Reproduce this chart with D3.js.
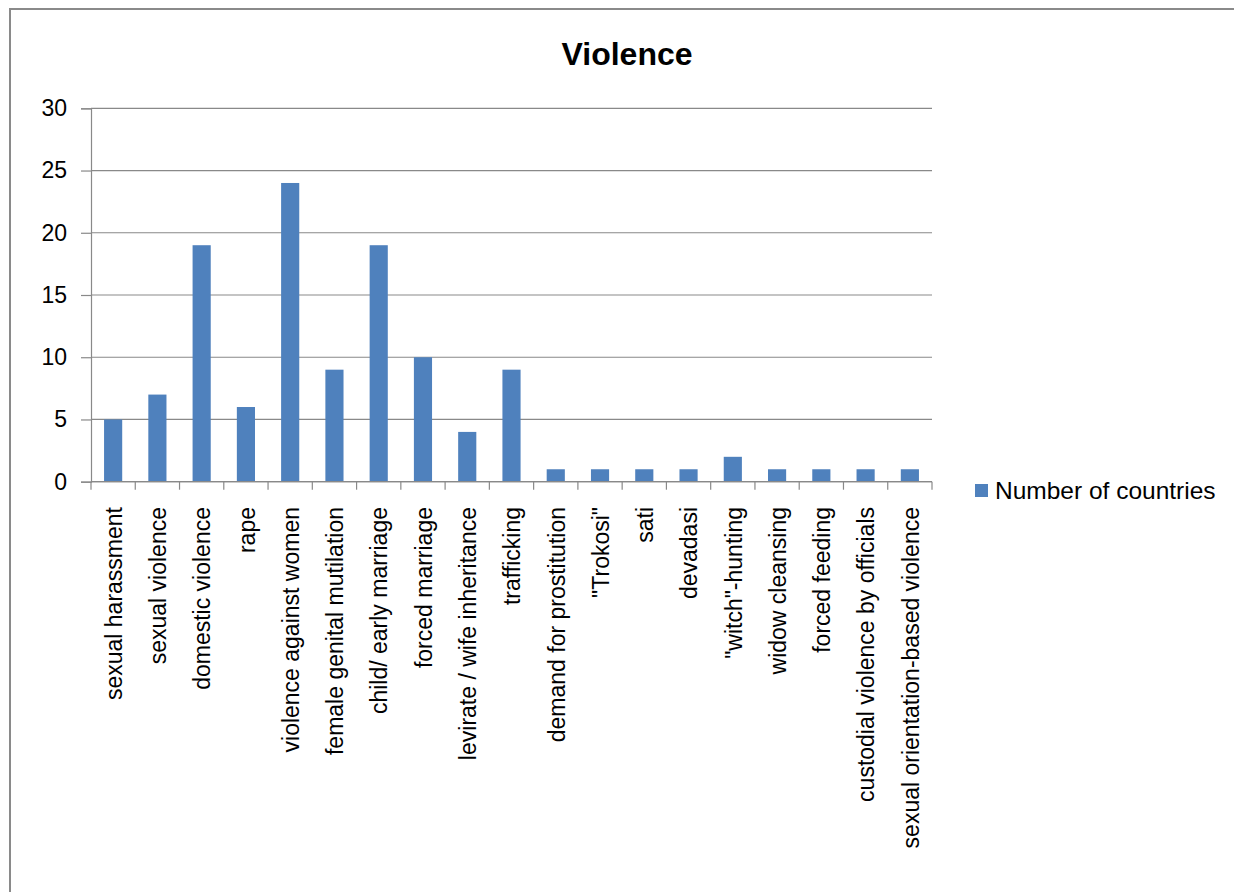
<!DOCTYPE html>
<html>
<head>
<meta charset="utf-8">
<script src="https://cdn.jsdelivr.net/npm/d3@7"></script>
<style>
  html, body { margin: 0; padding: 0; background: #ffffff; }
  svg { display: block; }
  text { font-family: "Liberation Sans", Arial, sans-serif; fill: #000; }
</style>
</head>
<body>
<svg id="chart" width="1234" height="892"></svg>
<script>
const title = "Violence";
const categories = [
  "sexual harassment", "sexual violence", "domestic violence", "rape",
  "violence against women", "female genital mutilation", "child/ early marriage",
  "forced marriage", "levirate / wife inheritance", "trafficking",
  "demand for prostitution", "\"Trokosi\"", "sati", "devadasi",
  "\"witch\"-hunting", "widow cleansing", "forced feeding",
  "custodial violence by officials", "sexual orientation-based violence"
];
const values = [5, 7, 19, 6, 24, 9, 19, 10, 4, 9, 1, 1, 1, 1, 2, 1, 1, 1, 1];
const yTicks = [0, 5, 10, 15, 20, 25, 30];
const seriesName = "Number of countries";

(function () {
const svg = d3.select("#chart");
const pLeft = 91, pRight = 932, pTop = 108.3, pBottom = 481.7;
const barColor = "#4F81BD";
const lineColor = "#898989";

// outer frame
svg.append("rect")
  .attr("x", 10).attr("y", 9)
  .attr("width", 1260).attr("height", 920)
  .attr("fill", "#fff")
  .attr("stroke", "#8a8a8a").attr("stroke-width", 2);

// title
svg.append("text")
  .attr("x", 627).attr("y", 65)
  .attr("text-anchor", "middle")
  .attr("font-size", 32).attr("font-weight", "bold")
  .text(title);

const x = d3.scaleBand().domain(categories).range([pLeft, pRight])
  .paddingInner(0.59).paddingOuter(0.295);
const y = d3.scaleLinear().domain([0, 30]).range([pBottom, pTop]);

// gridlines
svg.append("g").selectAll("line").data(yTicks).join("line")
  .attr("x1", pLeft).attr("x2", pRight)
  .attr("y1", d => y(d)).attr("y2", d => y(d))
  .attr("stroke", lineColor).attr("stroke-width", 1.2);

// y axis
const yAxis = d3.axisLeft(y).tickValues(yTicks).tickSize(10).tickPadding(14);
const gy = svg.append("g").attr("transform", `translate(${pLeft},0)`).call(yAxis);
gy.select(".domain").attr("stroke", lineColor).attr("stroke-width", 1.2);
gy.selectAll(".tick line").attr("stroke", lineColor).attr("stroke-width", 1.2);
gy.selectAll(".tick text").attr("font-size", 23)
  .attr("font-family", "'Liberation Sans', Arial, sans-serif").attr("fill", "#000");

// bars
svg.append("g").selectAll("rect").data(values).join("rect")
  .attr("x", (d, i) => x(categories[i]))
  .attr("y", d => y(d))
  .attr("width", x.bandwidth())
  .attr("height", d => y(0) - y(d))
  .attr("fill", barColor);

// x axis line and ticks at category boundaries
const boundaries = d3.range(categories.length + 1).map(i => pLeft + i * (pRight - pLeft) / categories.length);
const gx = svg.append("g");
gx.append("line").attr("x1", pLeft).attr("x2", pRight)
  .attr("y1", pBottom).attr("y2", pBottom)
  .attr("stroke", lineColor).attr("stroke-width", 1.2);
gx.selectAll("line.tk").data(boundaries).join("line").attr("class", "tk")
  .attr("x1", d => d).attr("x2", d => d)
  .attr("y1", pBottom).attr("y2", pBottom + 8)
  .attr("stroke", lineColor).attr("stroke-width", 1.2);

// x labels rotated
svg.append("g").selectAll("text").data(categories).join("text")
  .attr("transform", d => `translate(${x(d) + x.bandwidth() / 2},507) rotate(-90)`)
  .attr("text-anchor", "end")
  .attr("dy", "0.38em")
  .attr("font-size", 23)
  .text(d => d);

// legend
const lg = svg.append("g");
lg.append("rect").attr("x", 975).attr("y", 484).attr("width", 13).attr("height", 13).attr("fill", barColor);
lg.append("text").attr("x", 995).attr("y", 499).attr("font-size", 24.5).text(seriesName);
})();
</script>
</body>
</html>
